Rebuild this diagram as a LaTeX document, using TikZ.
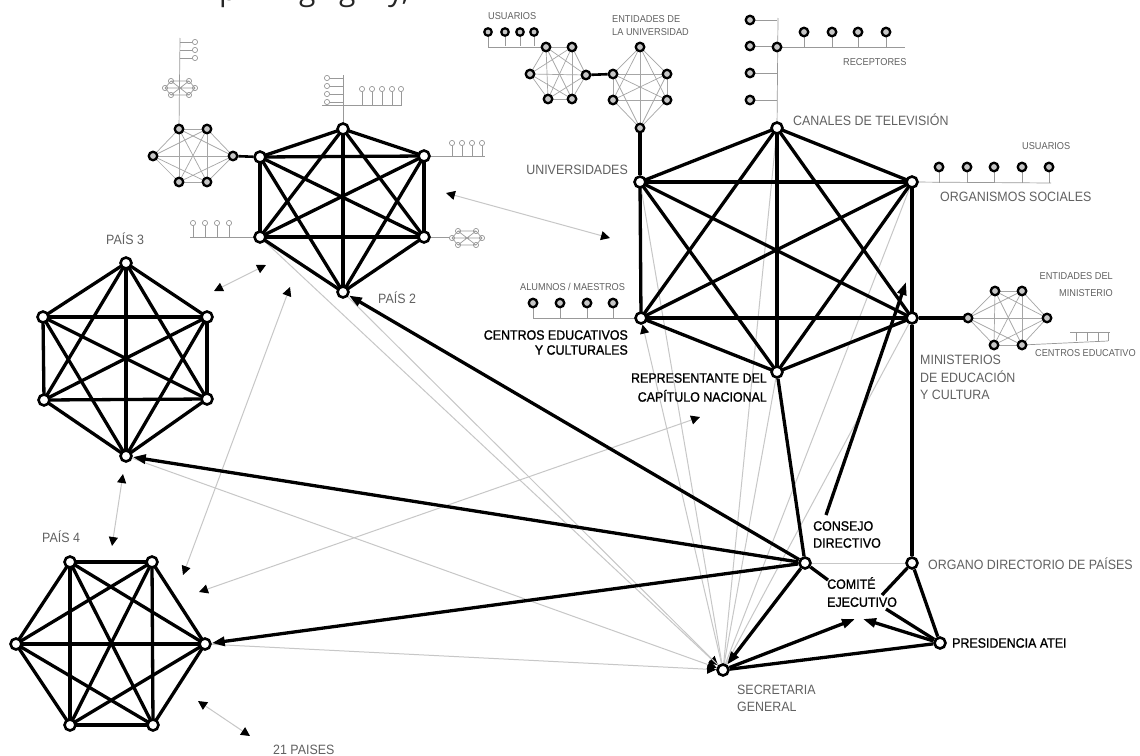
\documentclass[tikz,border=0pt]{standalone}
\usepackage{fontspec}
\setmainfont{Liberation Sans}
\newfontfamily\labfont[FakeStretch=0.92]{Liberation Sans}
\newfontfamily\blkfont[FakeStretch=0.92,FakeBold=1.2]{Liberation Sans}
\newfontfamily\topfont{Open Sans}
\usetikzlibrary{arrows.meta,backgrounds}
\newcommand\kSix[2]{\foreach \i in {1,...,5}{\pgfmathtruncatemacro\nx{\i+1}\foreach \j in {\nx,...,6}{\draw[#2] (#1\i.center) -- (#1\j.center);}}}
\newcommand\tinyNet[1]{\begin{scope}[shift={#1}]
 \foreach \a/\b in {-9/-7,9/-7,-15/0,15/0,-9/7,9/7}{\draw[deco,fill=white] (\a,\b) circle (2.6);}
 \draw[deco] (-9,-7)--(9,-7)--(15,0)--(9,7)--(-9,7)--(-15,0)--cycle (-9,-7)--(9,7) (9,-7)--(-9,7) (-15,0)--(15,0);
\end{scope}}
\begin{document}
\begin{tikzpicture}[x=1pt,y=-1pt,
  big/.style={circle,draw=black,fill=white,line width=2.6pt,minimum size=11pt,inner sep=0pt},
  dot/.style={circle,draw=black,fill=gray!45,line width=2.3pt,minimum size=8.5pt,inner sep=0pt},
  sdot/.style={circle,draw=black,fill=gray!45,line width=2.2pt,minimum size=7.5pt,inner sep=0pt},
  thk/.style={line width=3.3pt,black},
  med/.style={line width=2.6pt,black},
  net/.style={black!35,line width=0.7pt},
  deco/.style={black!40,line width=0.7pt},
  glin/.style={black!22,line width=1pt},
  tip/.style={-{Triangle[length=13pt,width=9pt]}},
  gtips/.style={{Triangle[length=9pt,width=9pt,color=black]}-{Triangle[length=9pt,width=9pt,color=black]}},
  gtip/.style={-{Triangle[length=9pt,width=9pt,color=black]}},
  biglab/.style={font=\labfont\fontsize{13.5}{17.5}\selectfont,text=black!62,inner sep=0pt},
  smlab/.style={font=\labfont\fontsize{10}{16}\selectfont,text=black!62,inner sep=0pt},
  blklab/.style={font=\blkfont\fontsize{13.5}{16}\selectfont,text=black,inner sep=0pt},
  frag/.style={anchor=south west,inner sep=0pt,outer sep=0pt,font=\topfont\fontsize{30}{30}\selectfont,text=black!85},
]
\useasboundingbox (0,0) rectangle (1140,755);
% ---------- big networks
\node[big] (a1) at (777,128) {};
\node[big] (a2) at (640,182) {};
\node[big] (a3) at (912,182) {};
\node[big] (a4) at (641,318) {};
\node[big] (a5) at (912,318) {};
\node[big] (a6) at (777,372) {};
\node[big] (b1) at (343,129) {};
\node[big] (b2) at (260,157) {};
\node[big] (b3) at (424,156) {};
\node[big] (b4) at (260,237) {};
\node[big] (b5) at (424,237) {};
\node[big] (b6) at (343,292) {};
\node[big] (c1) at (126,263) {};
\node[big] (c2) at (43,317) {};
\node[big] (c3) at (207,317) {};
\node[big] (c4) at (44,400) {};
\node[big] (c5) at (207,399) {};
\node[big] (c6) at (126,456) {};
\node[big] (d1) at (70,562) {};
\node[big] (d2) at (152,562) {};
\node[big] (d3) at (16,644) {};
\node[big] (d4) at (205,644) {};
\node[big] (d5) at (70,725) {};
\node[big] (d6) at (153,725) {};
\node[big] (cons) at (805,563) {};
\node[big] (orga) at (912,563) {};
\node[big] (pres) at (940,643) {};
\node[big] (sec) at (723,670) {};
\coordinate (com1) at (855,619);
\coordinate (com2) at (863,619);
\coordinate (ce) at (828,580);
\coordinate (oe) at (882,595);
\coordinate (pe) at (886,609);
\coordinate (cm1) at (826,515);
\coordinate (cm2) at (906,282);
% ---------- small networks
\node[dot] (u1) at (546,47) {};
\node[dot] (u2) at (572,47) {};
\node[dot] (u3) at (530,74) {};
\node[dot] (u4) at (586,75) {};
\node[dot] (u5) at (548,99) {};
\node[dot] (u6) at (572,99) {};
\node[dot] (e1) at (640,47) {};
\node[dot] (e2) at (613,74) {};
\node[dot] (e3) at (667,74) {};
\node[dot] (e4) at (613,100) {};
\node[dot] (e5) at (667,100) {};
\node[dot] (e6) at (640,128) {};
\node[dot] (p1) at (179,129) {};
\node[dot] (p2) at (207,129) {};
\node[dot] (p3) at (153,156) {};
\node[dot] (p4) at (233,156) {};
\node[dot] (p5) at (179,182) {};
\node[dot] (p6) at (207,182) {};
\node[dot] (m1) at (968,318) {};
\node[dot] (m2) at (995,291) {};
\node[dot] (m3) at (1022,291) {};
\node[dot] (m4) at (1047,318) {};
\node[dot] (m5) at (994,345) {};
\node[dot] (m6) at (1022,345) {};
% users / receivers
\foreach \n/\x in {1/488,2/505,3/520,4/534}{\node[sdot] (us\n) at (\x,32) {};}
\foreach \n/\y in {1/20,2/46,3/73,4/100}{\node[dot] (r\n) at (750,\y) {};}
\node[dot] (rh) at (777,47) {};
\foreach \n/\x in {1/804,2/832,3/858,4/886}{\node[dot] (rr\n) at (\x,32) {};}
\foreach \n/\x in {1/939,2/967,3/994,4/1022,5/1049}{\node[dot] (o\n) at (\x,167) {};}
\foreach \n/\x in {1/533,2/560,3/587,4/613}{\node[dot] (al\n) at (\x,303) {};}
\coordinate (rtop) at (778,18);
\coordinate (rend) at (905,47);
\coordinate (oend) at (1051,183);
\coordinate (usb) at (488,46);
% ---------- edges
\begin{scope}[on background layer]
\fill[white] (0,0) rectangle (1140,755);
% gray fan
\draw[glin,gtip] (d4) -- (sec);
\draw[glin,gtip] (c6) -- (sec);
\draw[glin,gtip] (b4) -- (sec);
\draw[glin] (b6) -- (sec);
\draw[glin,gtip] (sec) -- (a4);
\foreach \t in {a1,a2,a3,a5,a6}{\draw[glin] (sec.center) -- (\t.center);}
\draw[glin] (cons) -- (orga);
\coordinate (g1a) at (214,291); \coordinate (g1b) at (266,265);
\coordinate (g2a) at (446,193); \coordinate (g2b) at (610,238);
\coordinate (g3a) at (123,474); \coordinate (g3b) at (112,546);
\coordinate (g4a) at (198,701); \coordinate (g4b) at (250,736);
\coordinate (g5a) at (290,287); \coordinate (g5b) at (183,575);
\coordinate (g6a) at (700,417); \coordinate (g6b) at (199,592);
\foreach \k in {1,...,6}{\draw[glin,gtips] (g\k a) -- (g\k b);}
% small nets
\kSix{u}{net}\kSix{e}{net}\kSix{p}{net}\kSix{m}{net}
% decorations
\draw[deco] (a1.center) -- (rtop);
\foreach \n in {1,...,4}{\draw[deco] (r\n.center) -- (r\n -| a1.center);}
\draw[deco] (rh.center) -- (rend);
\foreach \n in {1,...,4}{\draw[deco] (rr\n.center) -- (rr\n |- rh.center);}
\draw[deco] (a3.center) -- (oend);
\foreach \n in {1,...,5}{\draw[deco] (o\n.center) -- (o\n |- oend);}
\draw[deco] (a4.center) -- (al1 |- a4.center);
\foreach \n in {1,...,4}{\draw[deco] (al\n.center) -- (al\n |- a4.center);}
\draw[deco] (u1.center) -- (u1 -| usb) -- (usb);
\foreach \n in {1,...,4}{\draw[deco] (us\n.center) -- (us\n |- usb);}
% Pais 2 ornaments
\draw[deco] (p1.center) -- (180,38);
\foreach \y in {42,50,58}{\draw[deco] (180,\y) -- (192,\y); \draw[deco,fill=white] (195,\y) circle (2.6);}
\tinyNet{(180,88)}
\draw[deco] (b1.center) -- (343,75);
\foreach \y in {78,86,94,102}{\draw[deco] (343,\y) -- (330,\y); \draw[deco,fill=white] (327,\y) circle (2.6);}
\draw[deco] (322,105) -- (402,105);
\foreach \x in {362,372,382,392,401}{\draw[deco] (\x,92) -- (\x,105); \draw[deco,fill=white] (\x,89) circle (2.6);}
\draw[deco] (b3.center) -- (485,156);
\foreach \x in {452,462,472,482}{\draw[deco] (\x,146) -- (\x,156); \draw[deco,fill=white] (\x,143) circle (2.6);}
\draw[deco] (b4.center) -- (190,237);
\foreach \x in {193,205,217,229}{\draw[deco] (\x,226) -- (\x,237); \draw[deco,fill=white] (\x,223) circle (2.6);}
\draw[deco] (b5.center) -- (452,237);
\tinyNet{(467,238)}
\draw[deco] (m6.center) -- (1108,341);
\draw[deco] (1070,332) -- (1110,332);
\foreach \x in {1076,1087,1098,1108}{\draw[deco] (\x,332) -- (\x,341);}
% thick networks
\kSix{a}{thk}\kSix{b}{thk}\kSix{c}{thk}\kSix{d}{thk}
\draw[med] (u4) -- (e2);
\draw[thk] (e6) -- (a2);
\draw[med] (p4) -- (b2);
\draw[thk] (a5) -- (m1);
% organisation
\draw[thk,tip] (cons) -- (b6);
\draw[thk,tip] (cons) -- (c6);
\draw[thk,tip] (cons) -- (d4);
\draw[thk] (a6) -- (cons);
\draw[thk,tip] (cons) -- (sec);
\draw[thk,tip] (cm1) -- (cm2);
\draw[thk] (a5) -- (orga);
\draw[thk] (orga) -- (pres);
\draw[thk] (sec) -- (pres);
\draw[thk,tip] (sec) -- (com1);
\draw[thk,tip] (pres) -- (com2);
\draw[thk] (pres) -- (pe);
\draw[thk] (orga) -- (oe);
\draw[thk] (cons) -- (ce);
\end{scope}
% ---------- labels
\node[biglab,anchor=west] (l1) at (793,120) {CANALES DE TELEVISIÓN};
\node[biglab,anchor=east] (l2) at (628,170) {UNIVERSIDADES};
\node[biglab,anchor=west] (l3) at (940,197) {ORGANISMOS SOCIALES};
\node[smlab,anchor=west] (l4) at (1022,146) {USUARIOS};
\node[smlab,anchor=west] (l5) at (843,62) {RECEPTORES};
\node[smlab,anchor=west] (l6) at (488,16) {USUARIOS};
\node[smlab,anchor=west,align=left,font=\labfont\fontsize{10}{13}\selectfont] (l7) at (612,25.5) {ENTIDADES DE\\LA UNIVERSIDAD};
\node[smlab,anchor=west] (l8) at (520,287) {ALUMNOS / MAESTROS};
\node[blklab,anchor=east,align=right,font=\blkfont\fontsize{13.5}{15}\selectfont] (l9) at (628,342.5) {CENTROS EDUCATIVOS\\Y CULTURALES};
\node[blklab,anchor=east,align=right,font=\blkfont\fontsize{13.5}{19}\selectfont] (l10) at (767,387.5) {REPRESENTANTE DEL\\CAPÍTULO NACIONAL};
\node[smlab,anchor=east,align=right,font=\labfont\fontsize{10}{17}\selectfont] (l11) at (1113,284.5) {ENTIDADES DEL\\MINISTERIO};
\node[smlab,anchor=west] (l12) at (1035,353) {CENTROS EDUCATIVO};
\node[biglab,anchor=west,align=left] (l13) at (920,377.5) {MINISTERIOS\\DE EDUCACIÓN\\Y CULTURA};
\node[blklab,anchor=west,align=left,font=\blkfont\fontsize{13.5}{17}\selectfont] (l14) at (813,534.5) {CONSEJO\\DIRECTIVO};
\node[blklab,anchor=west,align=left,font=\blkfont\fontsize{13.5}{18}\selectfont] (l15) at (827,592) {COMITÉ\\EJECUTIVO};
\node[biglab,anchor=west] (l16) at (928,564) {ORGANO DIRECTORIO DE PAÍSES};
\node[blklab,anchor=west] (l17) at (952,643) {PRESIDENCIA ATEI};
\node[biglab,anchor=west,align=left] (l18) at (737,698.5) {SECRETARIA\\GENERAL};
\node[biglab,anchor=west] (l19) at (106,239) {PAÍS 3};
\node[biglab,anchor=west] (l20) at (378,298) {PAÍS 2};
\node[biglab,anchor=west] (l21) at (42,537) {PAÍS 4};
\node[biglab,anchor=west] (l22) at (273,750) {21 PAISES};
% ---------- clipped heading fragment (only descenders visible)
\begin{scope}
\path[clip] (0,0) rectangle (1140,9);
\node[frag] (t1) at (219,8) {p};
\node[frag] (t2) at (299,8) {g};
\node[frag] (t3) at (339,8) {g};
\node[frag] (t4) at (388,8) {y,};
\end{scope}
\end{tikzpicture}
\end{document}
